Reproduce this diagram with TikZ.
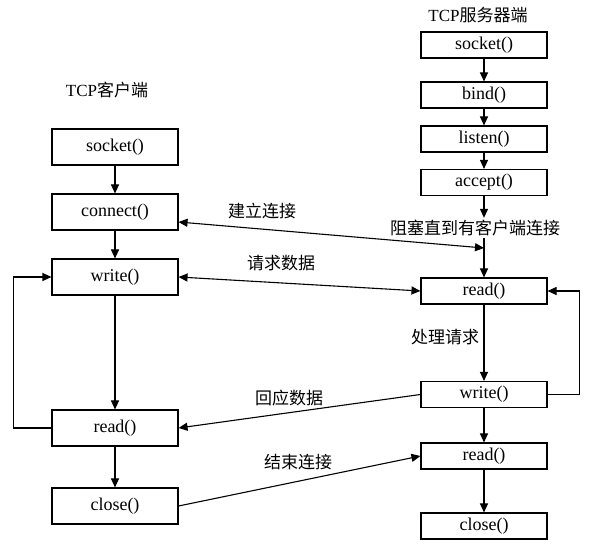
\documentclass[tikz,border=0pt]{standalone}
\usepackage{fontspec}
\setmainfont{Liberation Serif}
\newfontfamily\cjk{Noto Sans CJK SC}
\usetikzlibrary{positioning}
\usetikzlibrary{arrows.meta}
\tikzset{
	cbox/.style={draw, line width=1.1pt, minimum width=126pt, minimum height=36pt, inner sep=0pt, font=\fontsize{18}{18}\selectfont},
	sbox/.style={cbox, minimum height=26pt},
	lbl/.style={inner sep=2pt, font=\cjk\fontsize{17}{17}\selectfont},
	arr/.style={-{Triangle[length=9pt,width=8pt]}, line width=1.1pt},
	darr/.style={{Triangle[length=9pt,width=8pt]}-{Triangle[length=9pt,width=8pt]}, line width=1.1pt}
}

\begin{document}
\begin{tikzpicture}[x=1pt,y=-1pt]
	\useasboundingbox (0,0) rectangle (590,553);
	% client side
	\node[lbl] (ctitle) at (107,90) {\rmfamily TCP\cjk 客户端};
	\node[cbox] (csocket) at (115,147) {socket()};
	\node[cbox] (cconnect) at (115,212) {connect()};
	\node[cbox] (cwrite) at (115,277) {write()};
	\node[cbox] (cread) at (115,428) {read()};
	\node[cbox] (cclose) at (115,506) {close()};
	\draw[arr] (csocket) -- (cconnect);
	\draw[arr] (cconnect) -- (cwrite);
	\draw[arr] (cwrite) -- (cread);
	\draw[arr] (cread) -- (cclose);
	\draw[arr] (cread.west) -- ++(-38,0) |- (cwrite.west);
	% server side
	\node[lbl] (stitle) at (478,15) {\rmfamily TCP\cjk 服务器端};
	\node[sbox] (ssocket) at (484,45) {socket()};
	\node[sbox] (sbind) at (484,95) {bind()};
	\node[sbox] (slisten) at (484,139) {listen()};
	\node[sbox] (saccept) at (484,182.5) {accept()};
	\node[lbl] (block) at (475,228) {阻塞直到有客户端连接};
	\node[sbox] (sread) at (484,291) {read()};
	\node[sbox] (swrite) at (484,394.5) {write()};
	\node[sbox] (sread2) at (484,456) {read()};
	\node[sbox] (sclose) at (484,526) {close()};
	\draw[arr] (ssocket) -- (sbind);
	\draw[arr] (sbind) -- (slisten);
	\draw[arr] (slisten) -- (saccept);
	\draw[arr] (saccept) -- (saccept |- block.north);
	\draw[arr] (saccept |- block.south) -- (sread);
	\draw[arr] (sread) -- (swrite);
	\node[lbl] (lwork) at (445,337) {处理请求};
	\draw[arr] (swrite) -- (sread2);
	\draw[arr] (sread2) -- (sclose);
	\draw[arr] (swrite.east) -- ++(32,0) |- (sread.east);
	% between the two sides
	\coordinate (meet) at (484,248);
	\draw[darr] ([yshift=-10pt]cconnect.east) -- (meet);
	\node[lbl] (lconnect) at (262,211) {建立连接};
	\draw[darr] (cwrite.east) -- (sread.west);
	\node[lbl] (lrequest) at (281,263) {请求数据};
	\draw[arr] (swrite.west) -- (cread.east);
	\node[lbl] (lreply) at (289,398) {回应数据};
	\draw[arr] (cclose.east) -- (sread2.west);
	\node[lbl] (lend) at (298,462) {结束连接};
\end{tikzpicture}
\end{document}
